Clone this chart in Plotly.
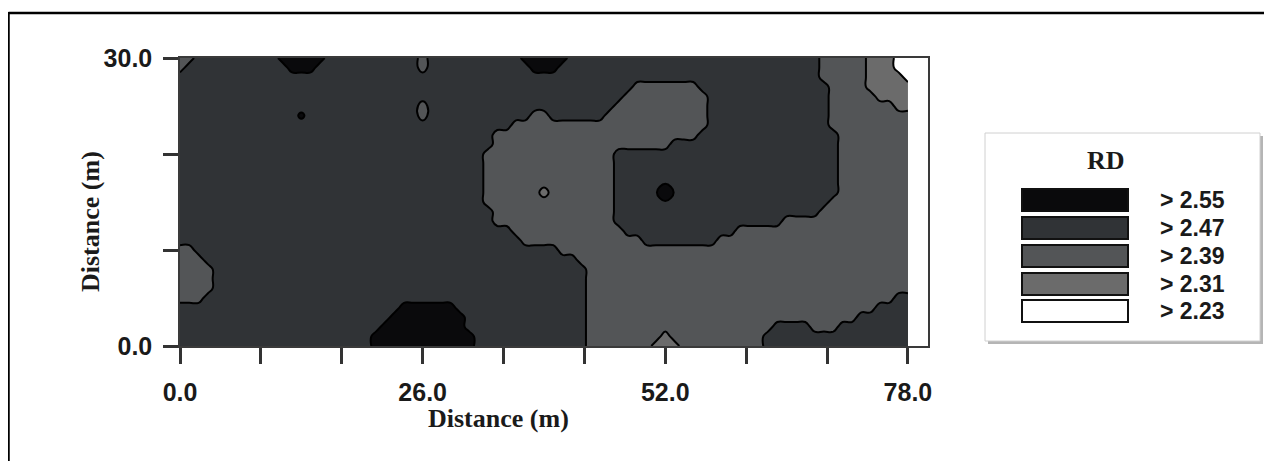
import plotly.graph_objects as go

# ---------------- data ----------------
# grid: x = 0..78 m (1 m step), y = 0..30 m (1 m step)
x_values = list(range(0, 79))
y_values = list(range(0, 31))

# representative RD value of each class
class_values = {"W": 2.27, "L": 2.35, "M": 2.43, "D": 2.51, "B": 2.59, "K": 2.90, "b": 2.57}

# each row (y) as run-length list of classes along x (0..78)
rows = {
    30: "M2 D9 B5 D10 M1 D10 B5 D27 M5 L3 W2",
    29: "M1 D11 B3 D11 M1 D11 B3 D28 M5 L3 W2",
    28: "D69 M5 L4 W1",
    27: "D49 M7 D14 M4 L5",
    26: "D48 M9 D13 M5 L4",
    25: "D26 M1 D20 M10 D13 M7 L2",
    24: "D13 b1 D12 M1 D11 M2 D6 M11 D13 M9",
    23: "D36 M21 D13 M9",
    22: "D34 M22 D15 M8",
    21: "D34 M19 D18 M8",
    20: "D33 M14 D24 M8",
    19: "D33 M14 D24 M8",
    18: "D33 M14 D24 M8",
    17: "D33 M14 D24 M8",
    16: "D33 M6 L1 M7 D5 K1 D18 M8",
    15: "D33 M14 D23 M9",
    14: "D34 M13 D22 M10",
    13: "D34 M13 D18 M14",
    12: "D36 M12 D12 M19",
    11: "D37 M13 D8 M21",
    10: "M2 D39 M38",
    9: "M3 D40 M36",
    8: "M4 D40 M35",
    7: "M4 D40 M35",
    6: "M4 D40 M35",
    5: "M3 D41 M33 D2",
    4: "D24 B6 D14 M31 D4",
    3: "D23 B8 D13 M29 D6",
    2: "D22 B9 D13 M20 D4 M3 D8",
    1: "D21 B11 D12 M8 L1 M10 D16",
    0: "D21 B11 D12 M7 L3 M9 D16",
}

contour_start, contour_end, contour_size = 2.31, 2.55, 0.08
legend_title = "RD"
legend_labels = ["> 2.55", "> 2.47", "> 2.39", "> 2.31", "> 2.23"]
band_colors = ["#ffffff", "#6b6b6b", "#535557", "#303336", "#0a0a0c"]  # low -> high

x_tickvals = [0, 26 / 3, 52 / 3, 26, 26 + 26 / 3, 26 + 52 / 3, 52, 52 + 26 / 3, 52 + 52 / 3, 78]
x_ticktext = ["0.0", "", "", "26.0", "", "", "52.0", "", "", "78.0"]
y_tickvals = [0, 10, 20, 30]
y_ticktext = ["0.0", "", "", "30.0"]
axis_title = "Distance (m)"


# ---------------- build grid ----------------
def decode(rle):
    out = []
    for tok in rle.split():
        out += [class_values[tok[0]]] * int(tok[1:])
    return out

z = [decode(rows[y]) for y in y_values]

# ---------------- figure ----------------
WIN_W, WIN_H = 1272, 461
OFF = 8                      # default page margin of the html body
W, H = WIN_W - OFF, WIN_H - OFF
PL, PR, PT, PB = 180, 928, 58, 346   # plot box in window pixels


def fx(xp):
    return (xp - PL) / (PR - PL)


def fy(yp):
    return (PB - yp) / (PB - PT)


n = len(band_colors)
colorscale = [[i / (n - 1), c] for i, c in enumerate(band_colors)]

fig = go.Figure(go.Contour(
    x=x_values, y=y_values, z=z,
    autocontour=False,
    contours=dict(start=contour_start, end=contour_end, size=contour_size, coloring="fill"),
    colorscale=colorscale,
    line=dict(color="#000000", width=2, smoothing=1.3),
    showscale=False,
    hoverinfo="skip",
))

tick_font = dict(family="Arial, Liberation Sans, sans-serif", size=25, color="#1a1a1a", weight="bold")
serif_font = dict(family="Times New Roman, Liberation Serif, serif", size=26, color="#1a1a1a", weight="bold")

fig.update_xaxes(
    range=[0, 80.15], tickvals=x_tickvals, ticktext=x_ticktext,
    ticks="outside", ticklen=16, tickwidth=2.5, tickcolor="#333333",
    showline=True, mirror=True, linecolor="#3a3a3a", linewidth=1.5,
    showgrid=False, zeroline=False, tickfont=tick_font, ticklabelstandoff=7,
)
fig.update_yaxes(
    range=[0, 30], tickvals=y_tickvals, ticktext=y_ticktext,
    ticks="outside", ticklen=15, tickwidth=2.5, tickcolor="#333333",
    showline=True, mirror=True, linecolor="#3a3a3a", linewidth=1.5,
    showgrid=False, zeroline=False, tickfont=tick_font, ticklabelstandoff=6,
)

shapes = []
annotations = []

# outer frame (top and left)
shapes.append(dict(type="line", xref="paper", yref="paper", x0=fx(8.5), x1=fx(WIN_W + 5), y0=fy(13), y1=fy(13),
                   line=dict(color="#000000", width=2.5)))
shapes.append(dict(type="line", xref="paper", yref="paper", x0=fx(8.5), x1=fx(8.5), y0=fy(12), y1=fy(WIN_H + 5),
                   line=dict(color="#000000", width=2.5)))

# legend box with shadow
shapes.append(dict(type="rect", xref="paper", yref="paper", x0=fx(988), x1=fx(1263), y0=fy(136), y1=fy(344),
                   line=dict(width=0), fillcolor="#b5b5b5", layer="above"))
shapes.append(dict(type="rect", xref="paper", yref="paper", x0=fx(985), x1=fx(1260), y0=fy(133), y1=fy(341),
                   line=dict(color="#d0d0d0", width=1), fillcolor="#ffffff", layer="above"))

row_tops = [189, 217, 245, 273, 300]
for i, lab in enumerate(legend_labels):
    col = band_colors[n - 1 - i]
    t = row_tops[i]
    shapes.append(dict(type="rect", xref="paper", yref="paper", x0=fx(1022), x1=fx(1128), y0=fy(t), y1=fy(t + 22),
                       line=dict(color="#111111", width=2), fillcolor=col, layer="above"))
    annotations.append(dict(xref="paper", yref="paper", x=fx(1158), y=fy(t + 11), text=lab, showarrow=False,
                            xanchor="left", yanchor="middle",
                            font=dict(family="Arial, Liberation Sans, sans-serif", size=23, color="#1a1a1a",
                                      weight="bold")))

annotations.append(dict(xref="paper", yref="paper", x=fx(1106), y=fy(160), text=legend_title, showarrow=False,
                        xanchor="center", yanchor="middle", font=serif_font))
annotations.append(dict(xref="paper", yref="paper", x=fx(498), y=fy(418), text=axis_title, showarrow=False,
                        xanchor="center", yanchor="middle", font=serif_font))
annotations.append(dict(xref="paper", yref="paper", x=fx(90), y=fy(222), text=axis_title, showarrow=False,
                        textangle=-90, xanchor="center", yanchor="middle", font=serif_font))

fig.update_layout(
    width=W, height=H, autosize=False,
    margin=dict(l=PL - OFF, r=WIN_W - PR, t=PT - OFF, b=WIN_H - PB),
    paper_bgcolor="#ffffff", plot_bgcolor="#ffffff",
    shapes=shapes, annotations=annotations, showlegend=False,
)

fig.write_html("out.html")
